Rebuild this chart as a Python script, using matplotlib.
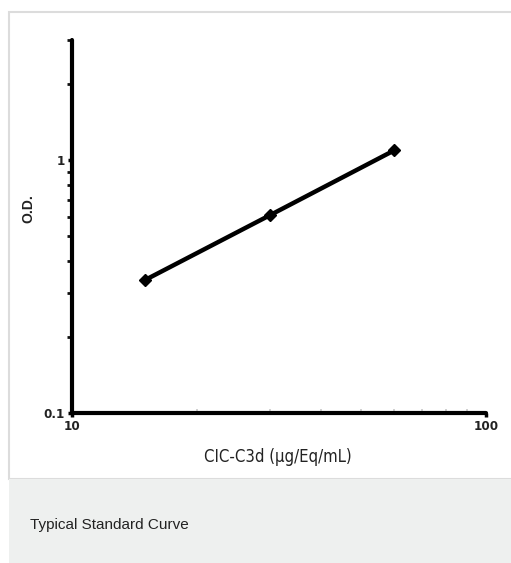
import matplotlib
matplotlib.use("Agg")
import matplotlib.pyplot as plt
from matplotlib.patches import Rectangle
from matplotlib.ticker import FixedLocator, NullFormatter, LogLocator

conc = [15, 30, 60]
od = [0.336, 0.606, 1.096]
xticks = [10, 100]
xtick_labels = ["10", "100"]
yticks = [0.1, 1]
ytick_labels = ["0.1", "1"]

W, H = 511, 563
fig = plt.figure(figsize=(W / 100, H / 100), dpi=100)

# panel background / border
fig.patches.append(Rectangle((9 / W, (H - 479) / H), 1, 467 / H, transform=fig.transFigure,
                             facecolor="white", edgecolor="#dcdcdc", linewidth=1.5, zorder=-10))
fig.patches.append(Rectangle((9 / W, 0), 1, (H - 479) / H, transform=fig.transFigure,
                             facecolor="#eef0ef", edgecolor="none", zorder=-10))

cond = dict(family=["DejaVu Sans", "Liberation Sans"], stretch="condensed")

x0, x1, ytop, ybot = 72, 486, 40, 413
ax = fig.add_axes([x0 / W, (H - ybot) / H, (x1 - x0) / W, (ybot - ytop) / H])
ax.set_zorder(5)
ax.set_facecolor("none")
ax.set_xscale("log")
ax.set_yscale("log")
ax.set_xlim(10, 100)
ax.set_ylim(0.1, 3)

ax.plot(conc, od, color="black", linewidth=3.2, marker="D", markersize=6.5,
        markerfacecolor="black", markeredgecolor="black", solid_capstyle="round", clip_on=False)

for s in ["top", "right"]:
    ax.spines[s].set_visible(False)
for s in ["left", "bottom"]:
    ax.spines[s].set_linewidth(3)
    ax.spines[s].set_capstyle("round")

ax.xaxis.set_major_locator(FixedLocator(xticks))
ax.yaxis.set_major_locator(FixedLocator(yticks))
ax.set_xticklabels(xtick_labels, fontweight="bold", fontsize=9.5, color="#222222", **cond)
ax.set_yticklabels(ytick_labels, fontweight="bold", fontsize=9.5, color="#222222", **cond)
ax.xaxis.set_minor_locator(LogLocator(base=10, subs=range(2, 10)))
ax.yaxis.set_minor_locator(LogLocator(base=10, subs=range(2, 10)))
ax.xaxis.set_minor_formatter(NullFormatter())
ax.yaxis.set_minor_formatter(NullFormatter())
ax.tick_params(axis="both", which="major", length=3, width=2.5, direction="out", pad=2)
ax.tick_params(axis="y", which="minor", length=3.5, width=2, direction="out", color="#111111")
ax.tick_params(axis="x", which="minor", length=3, width=1.2, direction="in", color="#c8c8c8")

ax.set_xlabel("CIC-C3d (µg/Eq/mL)", fontsize=12, color="#222222", **cond)
ax.xaxis.set_label_coords((278 - x0) / (x1 - x0), -(457 - ybot) / (ybot - ytop))
ax.xaxis.label.set_va("center")
ax.set_ylabel("O.D.", family=["Liberation Sans", "DejaVu Sans"], fontweight="bold", fontsize=10,
              color="#222222")
ax.yaxis.set_label_coords(-(x0 - 28) / (x1 - x0), (ybot - 209) / (ybot - ytop))
ax.yaxis.label.set_va("center")

fig.text(30 / W, (H - 525) / H, "Typical Standard Curve", family=["Liberation Sans", "DejaVu Sans"],
         fontsize=11, color="#222222", va="center", ha="left")

fig.savefig("out.png", dpi=100)
